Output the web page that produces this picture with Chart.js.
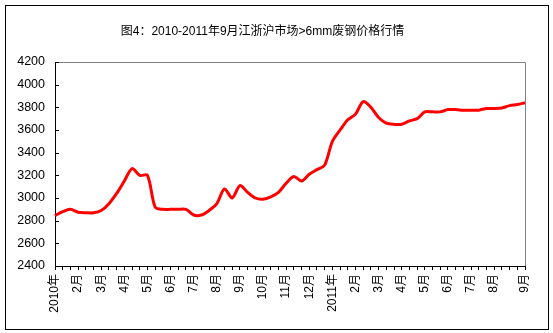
<!DOCTYPE html>
<html>
<head>
<meta charset="utf-8">
<script src="https://cdn.jsdelivr.net/npm/chart.js@4.4.1/dist/chart.umd.min.js"></script>
<style>
  html, body { margin: 0; padding: 0; background: #fff; }
  #wrap { width: 553px; height: 333px; }
</style>
</head>
<body>
<div id="wrap"><canvas id="priceChart" width="553" height="333"></canvas></div>
<script>
// 江浙沪 >6mm 废钢价格，2010年1月 - 2011年9月，约每旬一个数据点 (元/吨)
var prices = [
    2845, 2880, 2900, 2875, 2870, 2870, 2890, 2950, 3040, 3150,
    3260, 3200, 3200, 2920, 2900, 2900, 2900, 2900, 2850, 2850,
    2890, 2950, 3080, 3000, 3110, 3050, 3000, 2990, 3010, 3050,
    3130, 3190, 3150, 3210, 3250, 3290, 3500, 3600, 3690, 3740,
    3850, 3800, 3710, 3660, 3650, 3650, 3680, 3700, 3760, 3760,
    3760, 3780, 3780, 3775, 3775, 3775, 3790, 3790, 3795, 3815,
    3825, 3840
];

// 横轴只在部分数据点上标注月份
var monthIdx = [0, 3, 6, 9, 12, 15, 18, 21, 24, 27, 30, 33, 36, 39, 42, 45, 48, 51, 54, 57, 61];
var monthText = ['2010年', '2月', '3月', '4月', '5月', '6月', '7月', '8月', '9月', '10月', '11月', '12月',
                 '2011年', '2月', '3月', '4月', '5月', '6月', '7月', '8月', '9月'];

var yMin = 2400, yMax = 4200, yStep = 200;

var categories = prices.map(function () { return ''; });
monthIdx.forEach(function (idx, k) { categories[idx] = monthText[k]; });

var FONT = '"Liberation Sans", "Noto Sans CJK SC", sans-serif';

// 外框、绘图区灰色上/右边线、纵轴内侧刻度
var framePlugin = {
    id: 'frame',
    afterDraw: function (chart) {
        var ctx = chart.ctx;
        var a = chart.chartArea;
        var ys = chart.scales.y;
        ctx.save();
        ctx.lineWidth = 1;
        ctx.strokeStyle = '#808080';
        ctx.beginPath();
        ctx.moveTo(a.left, Math.round(a.top) + 0.5);
        ctx.lineTo(Math.round(a.right) + 0.5, Math.round(a.top) + 0.5);
        ctx.lineTo(Math.round(a.right) + 0.5, a.bottom);
        ctx.stroke();

        ctx.strokeStyle = '#000';
        ctx.beginPath();
        ys.ticks.forEach(function (t) {
            var py = Math.round(ys.getPixelForValue(t.value)) + 0.5;
            ctx.moveTo(a.left, py);
            ctx.lineTo(a.left + 4, py);
        });
        ctx.stroke();

        ctx.strokeRect(5.5, 5.5, 543, 324);
        ctx.restore();
    }
};

new Chart(document.getElementById('priceChart'), {
    type: 'line',
    data: {
        labels: categories,
        datasets: [{
            data: prices,
            borderColor: '#ff0000',
            borderWidth: 3,
            pointRadius: 0,
            tension: 0.3,
            fill: false
        }]
    },
    options: {
        responsive: false,
        animation: false,
        layout: { padding: { left: 0, right: 28, top: 0, bottom: 0 } },
        plugins: {
            legend: { display: false },
            tooltip: { enabled: false },
            title: {
                display: true,
                text: '图4：2010-2011年9月江浙沪市场>6mm废钢价格行情',
                color: '#000',
                font: { family: FONT, size: 12, weight: 'normal', lineHeight: 1.2 },
                padding: { top: 24.6, bottom: 23 }
            }
        },
        scales: {
            x: {
                offset: false,
                grid: { display: true, drawOnChartArea: false, drawTicks: true, tickLength: 4, color: '#000' },
                border: { display: true, color: '#000', width: 1 },
                ticks: {
                    autoSkip: false,
                    maxRotation: 90,
                    minRotation: 90,
                    padding: 4,
                    color: '#000',
                    font: { family: FONT, size: 12 }
                },
                afterFit: function (scale) { scale.height = 67; }
            },
            y: {
                min: yMin,
                max: yMax,
                grid: { display: true, drawOnChartArea: false, drawTicks: false },
                border: { display: true, color: '#000', width: 1 },
                ticks: {
                    stepSize: yStep,
                    padding: 10,
                    color: '#000',
                    font: { family: FONT, size: 12.5 },
                    callback: function (v) { return String(v); }
                },
                afterFit: function (scale) { scale.width = 55; }
            }
        }
    },
    plugins: [framePlugin]
});
</script>
</body>
</html>
